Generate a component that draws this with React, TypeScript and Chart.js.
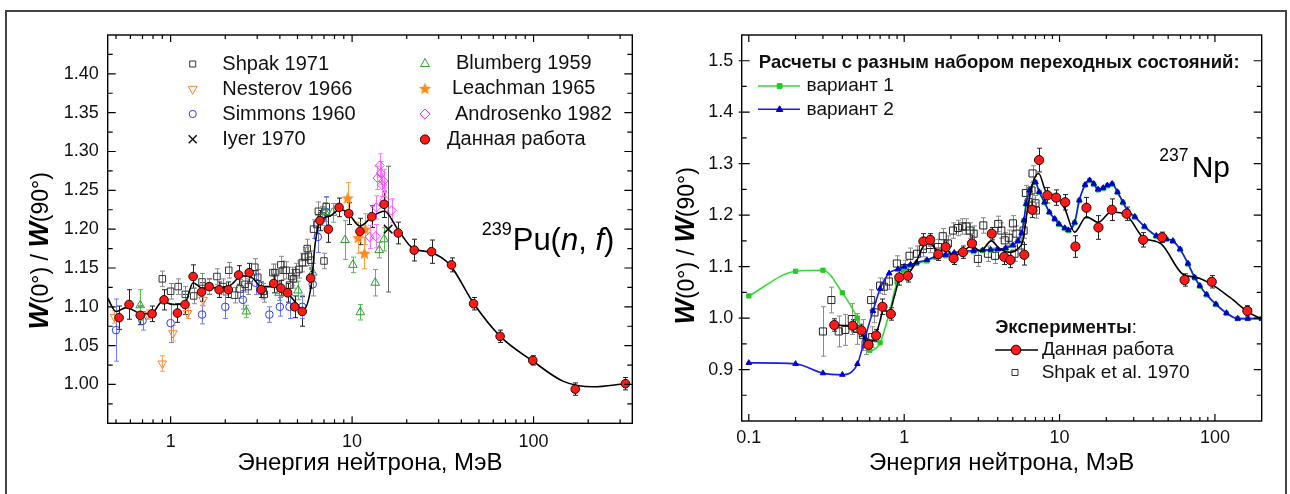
import React, { useEffect, useRef } from 'react';
import { Chart, registerables } from 'chart.js';

Chart.register(...registerables);

const FONT = '"Liberation Sans", Arial, Helvetica, sans-serif';

/* ===================== LEFT PANEL : 239Pu(n,f) ===================== */
const leftXTicks = [1, 10, 100];
const leftXMinor = [0.5, 0.6, 0.7, 0.8, 0.9, 2, 3, 4, 5, 6, 7, 8, 9, 20, 30, 40, 50, 60, 70, 80, 90, 200, 300];
const leftYTicks = [1.0, 1.05, 1.1, 1.15, 1.2, 1.25, 1.3, 1.35, 1.4];
const leftYMinor = [0.975, 1.025, 1.075, 1.125, 1.175, 1.225, 1.275, 1.325, 1.375, 1.425];

// "Данная работа" (red circles)
const leftRedE = [0.52, 0.59, 0.68, 0.79, 0.92, 1.09, 1.2, 1.33, 1.48, 1.63, 1.85, 2.08, 2.37, 2.71, 3.15, 3.70, 4.05, 4.41, 4.83, 5.31, 5.91, 6.65, 7.40, 8.47, 9.58, 11.05, 12.83, 15.0, 17.95, 22.0, 27.4, 35.3, 46.7, 65.4, 99.0, 169.7, 321];
const leftRedW = [1.086, 1.103, 1.089, 1.091, 1.109, 1.092, 1.103, 1.139, 1.119, 1.126, 1.122, 1.122, 1.141, 1.144, 1.122, 1.130, 1.124, 1.118, 1.100, 1.094, 1.137, 1.211, 1.200, 1.228, 1.220, 1.197, 1.216, 1.232, 1.195, 1.173, 1.171, 1.154, 1.104, 1.062, 1.031, 0.994, 1.001];
const leftRedErr = [0.015, 0.019, 0.012, 0.010, 0.013, 0.012, 0.013, 0.015, 0.012, 0.010, 0.010, 0.010, 0.012, 0.012, 0.010, 0.012, 0.010, 0.012, 0.014, 0.019, 0.013, 0.013, 0.017, 0.012, 0.014, 0.017, 0.014, 0.017, 0.014, 0.014, 0.015, 0.009, 0.008, 0.008, 0.006, 0.008, 0.008];

// smooth curve through own data
const leftFitE = [0.45, 0.5, 0.57, 0.67, 0.75, 0.81, 0.9, 1.03, 1.2, 1.33, 1.49, 1.85, 2.11, 2.48, 2.83, 3.15, 3.9, 4.4, 4.83, 5.37, 5.97, 6.25, 6.65, 7.57, 8.5, 9.4, 11.06, 13.0, 15.1, 17.7, 21.7, 27.2, 34.6, 46.6, 65.5, 99.2, 146, 213, 320];
const leftFitW = [1.111, 1.094, 1.099, 1.092, 1.091, 1.094, 1.107, 1.103, 1.105, 1.131, 1.124, 1.125, 1.127, 1.140, 1.137, 1.126, 1.126, 1.118, 1.107, 1.096, 1.130, 1.180, 1.210, 1.217, 1.225, 1.222, 1.204, 1.217, 1.223, 1.201, 1.175, 1.170, 1.154, 1.105, 1.062, 1.030, 1.004, 0.997, 1.001];

// Shpak 1971
const shpakLE = [0.90, 1.0, 1.10, 1.205, 1.34, 1.49, 1.63, 1.80, 1.95, 2.09, 2.25, 2.41, 2.57, 2.68, 2.91, 3.02, 3.24, 3.28, 3.66, 3.84, 4.05, 4.17, 4.33, 4.52, 4.75, 4.91, 5.09, 5.31, 5.48, 5.66, 5.91, 6.13, 6.40, 6.52, 6.83, 7.0, 7.2, 3.76, 4.65, 5.74];
const shpakLW = [1.136, 1.120, 1.126, 1.116, 1.114, 1.132, 1.126, 1.139, 1.126, 1.147, 1.115, 1.123, 1.129, 1.126, 1.151, 1.138, 1.120, 1.116, 1.144, 1.129, 1.154, 1.147, 1.147, 1.128, 1.136, 1.144, 1.148, 1.157, 1.164, 1.175, 1.160, 1.200, 1.206, 1.223, 1.217, 1.159, 1.229, 1.144, 1.139, 1.165];
const shpakLErr = [0.010, 0.010, 0.010, 0.010, 0.010, 0.011, 0.010, 0.010, 0.010, 0.010, 0.010, 0.012, 0.010, 0.010, 0.011, 0.010, 0.010, 0.010, 0.011, 0.012, 0.011, 0.012, 0.011, 0.012, 0.012, 0.012, 0.011, 0.012, 0.012, 0.012, 0.012, 0.012, 0.012, 0.012, 0.012, 0.010, 0.012, 0.011, 0.012, 0.012];

// Nesterov 1966
const nestE = [0.49, 0.75, 0.90, 1.03, 1.24, 1.51];
const nestW = [1.087, 1.090, 1.027, 1.066, 1.092, 1.109];
const nestErr = [0.008, 0.006, 0.010, 0.010, 0.007, 0.008];

// Simmons 1960
const simE = [0.50, 0.70, 1.0, 1.49, 2.0, 2.5, 2.94, 3.5, 4.0, 4.52, 5.31, 6.07, 6.47, 7.2];
const simW = [1.070, 1.082, 1.079, 1.090, 1.100, 1.109, 1.131, 1.090, 1.100, 1.100, 1.100, 1.129, 1.190, 1.222];
const simErr = [0.040, 0.012, 0.025, 0.012, 0.015, 0.012, 0.015, 0.010, 0.012, 0.015, 0.015, 0.015, 0.020, 0.020];

// Iyer 1970
const iyerE = [15.8];
const iyerW = [1.200];
const iyerErr = [0.081];

// Blumberg 1959
const blumE = [0.68, 2.61, 3.96, 5.04, 6.07, 7.1, 7.8, 9.14, 10.1, 11.1, 13.4, 14.1, 15.0];
const blumW = [1.102, 1.094, 1.118, 1.121, 1.144, 1.222, 1.221, 1.186, 1.154, 1.093, 1.131, 1.173, 1.187];
const blumErr = [0.020, 0.008, 0.010, 0.012, 0.012, 0.012, 0.012, 0.025, 0.010, 0.010, 0.017, 0.010, 0.015];

// Leachman 1965
const leachE = [9.45, 10.8, 11.8, 11.7];
const leachW = [1.240, 1.189, 1.200, 1.169];
const leachErr = [0.020, 0.020, 0.020, 0.020];

// Androsenko 1982
const andE = [12.5, 13.5, 13.6, 13.8, 14.2, 14.4, 14.6, 14.9, 15.1, 16.5];
const andW = [1.190, 1.191, 1.228, 1.266, 1.282, 1.272, 1.257, 1.262, 1.238, 1.224];
const andErr = [0.015, 0.015, 0.015, 0.015, 0.015, 0.015, 0.015, 0.015, 0.015, 0.015];

/* ===================== RIGHT PANEL : 237Np ===================== */
const rightXTicks = [0.1, 1, 10, 100];
const rightXMinor = [0.2, 0.3, 0.4, 0.5, 0.6, 0.7, 0.8, 0.9, 2, 3, 4, 5, 6, 7, 8, 9, 20, 30, 40, 50, 60, 70, 80, 90];
const rightYTicks = [0.9, 1.0, 1.1, 1.2, 1.3, 1.4, 1.5];
const rightYMinor = [0.85, 0.95, 1.05, 1.15, 1.25, 1.35, 1.45];

// "Данная работа"
const rRedE = [0.355, 0.466, 0.53, 0.59, 0.66, 0.725, 0.82, 0.93, 1.056, 1.33, 1.47, 1.66, 1.85, 2.08, 2.39, 2.73, 3.66, 4.4, 4.82, 5.93, 6.68, 7.38, 8.35, 9.5, 10.87, 12.65, 14.9, 17.8, 21.7, 27.0, 34.5, 45.7, 63.8, 95.4, 161.7];
const rRedW = [0.9865, 0.985, 0.976, 0.948, 0.966, 1.022, 1.008, 1.079, 1.082, 1.149, 1.152, 1.124, 1.138, 1.116, 1.128, 1.145, 1.164, 1.119, 1.113, 1.123, 1.2105, 1.307, 1.2385, 1.234, 1.225, 1.139, 1.2144, 1.176, 1.2105, 1.2027, 1.152, 1.157, 1.074, 1.0705, 1.014];
const rRedErr = [0.012, 0.012, 0.012, 0.010, 0.012, 0.015, 0.012, 0.015, 0.012, 0.015, 0.012, 0.012, 0.012, 0.012, 0.012, 0.015, 0.012, 0.015, 0.015, 0.020, 0.015, 0.023, 0.015, 0.015, 0.015, 0.021, 0.020, 0.023, 0.021, 0.013, 0.014, 0.010, 0.012, 0.012, 0.010];

// black curve
const rFitE = [0.355, 0.47, 0.53, 0.58, 0.64, 0.70, 0.73, 0.80, 0.87, 0.93, 1.05, 1.2, 1.33, 1.47, 1.66, 1.85, 2.08, 2.39, 2.73, 3.1, 3.64, 4.1, 4.8, 5.4, 5.8, 6.25, 6.7, 7.34, 8.2, 9.3, 10.8, 12.5, 14.9, 17.7, 21.5, 26.9, 34.4, 45.1, 62.0, 76.6, 94.8, 125, 166, 200];
const rFitW = [0.986, 0.985, 0.972, 0.952, 0.958, 0.995, 1.015, 1.012, 1.045, 1.075, 1.085, 1.11, 1.14, 1.145, 1.13, 1.135, 1.12, 1.13, 1.14, 1.13, 1.15, 1.135, 1.128, 1.135, 1.15, 1.2156, 1.261, 1.281, 1.245, 1.2385, 1.2125, 1.167, 1.197, 1.186, 1.206, 1.200, 1.157, 1.144, 1.0855, 1.079, 1.066, 1.04, 1.0105, 0.998];

// вариант 2 (blue)
const blueE = [0.1, 0.2, 0.3, 0.4, 0.5, 0.56, 0.63, 0.7, 0.8, 0.91, 1.0, 1.1, 1.2, 1.4, 1.6, 1.85, 2.1, 2.4, 2.8, 3.2, 3.6, 4.0, 4.5, 5.0, 5.4, 5.7, 5.9, 6.1, 6.4, 7.0, 7.4, 8.0, 8.6, 9.3, 9.9, 10.8, 11.4, 12.5, 13.4, 14.6, 15.6, 16.6, 17.7, 19.1, 20.3, 21.8, 23.6, 25.6, 27.5, 30.5, 35.2, 41.9, 48.6, 53.6, 59.7, 67.1, 74.1, 79.9, 88.3, 101.5, 118.6, 140.2, 162.8, 200];
const blueW = [0.913, 0.911, 0.893, 0.890, 0.911, 0.962, 1.014, 1.057, 1.087, 1.095, 1.100, 1.104, 1.108, 1.113, 1.120, 1.123, 1.127, 1.130, 1.131, 1.132, 1.133, 1.134, 1.136, 1.142, 1.150, 1.165, 1.190, 1.222, 1.248, 1.264, 1.245, 1.225, 1.206, 1.193, 1.183, 1.175, 1.171, 1.186, 1.229, 1.259, 1.268, 1.261, 1.250, 1.253, 1.258, 1.261, 1.245, 1.225, 1.208, 1.197, 1.178, 1.160, 1.154, 1.150, 1.134, 1.106, 1.079, 1.063, 1.046, 1.027, 1.010, 0.999, 0.999, 0.999];

// вариант 1 (green)
const greenE = [0.1, 0.2, 0.3, 0.4, 0.5, 0.6, 0.7, 0.8, 0.9, 1.0, 1.1, 1.2, 1.4, 1.6, 1.85, 2.1, 2.4, 2.8, 3.2, 3.6, 4.0, 4.5, 5.0, 5.4, 5.7, 5.9, 6.1, 6.4, 7.0, 7.4, 8.0, 8.6, 9.3, 9.9, 10.8, 11.4, 12.5, 13.4, 14.6, 15.6, 16.6, 17.7, 19.1, 20.3, 21.8, 23.6, 25.6, 27.5, 30.5, 35.2, 41.9, 48.6, 53.6, 59.7, 67.1, 74.1, 79.9, 88.3, 101.5, 118.6, 140.2, 162.8, 200];
const greenW = [1.043, 1.091, 1.093, 1.049, 1.000, 0.937, 0.952, 1.009, 1.070, 1.093, 1.102, 1.106, 1.111, 1.118, 1.121, 1.124, 1.127, 1.129, 1.131, 1.132, 1.133, 1.135, 1.141, 1.149, 1.164, 1.189, 1.221, 1.247, 1.263, 1.244, 1.224, 1.205, 1.192, 1.182, 1.174, 1.170, 1.185, 1.228, 1.258, 1.267, 1.260, 1.249, 1.252, 1.257, 1.260, 1.244, 1.224, 1.207, 1.196, 1.177, 1.159, 1.153, 1.149, 1.133, 1.105, 1.078, 1.062, 1.045, 1.026, 1.009, 0.999, 0.999, 0.999];

// Shpak et al. 1970
const rShE = [0.30, 0.34, 0.379, 0.418, 0.46, 0.496, 0.542, 0.564, 0.613, 0.623, 0.644, 0.70, 0.74, 0.797, 0.897, 1.006, 1.083, 1.21, 1.32, 1.47, 1.65, 1.77, 1.91, 2.06, 2.22, 2.37, 2.51, 2.64, 2.80, 2.98, 3.23, 3.46, 3.84, 4.03, 4.22, 4.44, 4.71, 5.01, 5.13, 5.28, 5.64, 5.87, 6.07, 6.33, 6.6, 6.7, 7.0, 7.05];
const rShW = [0.974, 1.035, 0.974, 0.977, 0.998, 0.979, 0.967, 0.949, 1.035, 0.963, 1.011, 1.063, 1.061, 1.071, 1.106, 1.097, 1.121, 1.125, 1.134, 1.142, 1.138, 1.159, 1.145, 1.170, 1.175, 1.178, 1.178, 1.170, 1.164, 1.115, 1.180, 1.125, 1.121, 1.183, 1.170, 1.151, 1.156, 1.184, 1.125, 1.164, 1.141, 1.170, 1.243, 1.225, 1.248, 1.281, 1.223, 1.209];
const rShErr = [0.048, 0.025, 0.030, 0.030, 0.030, 0.030, 0.030, 0.020, 0.020, 0.020, 0.020, 0.015, 0.015, 0.015, 0.015, 0.015, 0.015, 0.015, 0.015, 0.015, 0.015, 0.015, 0.015, 0.015, 0.015, 0.015, 0.015, 0.015, 0.015, 0.015, 0.015, 0.015, 0.015, 0.015, 0.015, 0.015, 0.015, 0.015, 0.015, 0.015, 0.015, 0.015, 0.015, 0.015, 0.015, 0.015, 0.015, 0.015];

/* ===================== helpers ===================== */
const pts = (xs: number[], ys: number[]) => xs.map((x, i) => ({ x, y: ys[i] }));

function starPath(g: CanvasRenderingContext2D, cx: number, cy: number, R: number, r: number) {
  g.beginPath();
  for (let i = 0; i < 10; i++) {
    const ang = -Math.PI / 2 + (i * Math.PI) / 5;
    const rad = i % 2 === 0 ? R : r;
    const px = cx + rad * Math.cos(ang);
    const py = cy + rad * Math.sin(ang);
    if (i === 0) g.moveTo(px, py);
    else g.lineTo(px, py);
  }
  g.closePath();
}

function makeStar(size: number, color: string) {
  const c = document.createElement('canvas');
  c.width = size;
  c.height = size;
  const g = c.getContext('2d')!;
  starPath(g, size / 2, size / 2 + 0.6, size / 2, (size / 2) * 0.45);
  g.fillStyle = color;
  g.fill();
  return c;
}

function marker(ctx: CanvasRenderingContext2D, kind: string, x: number, y: number, r: number, color: string, fill?: string) {
  ctx.save();
  ctx.lineWidth = 1;
  ctx.strokeStyle = color;
  ctx.beginPath();
  if (kind === 'square') ctx.rect(x - r, y - r, 2 * r, 2 * r);
  else if (kind === 'circle') ctx.arc(x, y, r, 0, Math.PI * 2);
  else if (kind === 'triUp') {
    ctx.moveTo(x, y - r);
    ctx.lineTo(x + r * 0.9, y + r * 0.6);
    ctx.lineTo(x - r * 0.9, y + r * 0.6);
    ctx.closePath();
  } else if (kind === 'triDown') {
    ctx.moveTo(x, y + r);
    ctx.lineTo(x + r * 0.9, y - r * 0.6);
    ctx.lineTo(x - r * 0.9, y - r * 0.6);
    ctx.closePath();
  } else if (kind === 'diamond') {
    ctx.moveTo(x, y - r);
    ctx.lineTo(x + r, y);
    ctx.lineTo(x, y + r);
    ctx.lineTo(x - r, y);
    ctx.closePath();
  } else if (kind === 'cross') {
    ctx.lineWidth = 1.5;
    ctx.moveTo(x - r, y - r);
    ctx.lineTo(x + r, y + r);
    ctx.moveTo(x + r, y - r);
    ctx.lineTo(x - r, y + r);
  } else if (kind === 'star') {
    starPath(ctx, x, y, r, r * 0.45);
  }
  if (fill) {
    ctx.fillStyle = fill;
    ctx.fill();
  }
  ctx.stroke();
  ctx.restore();
}

const errorBarPlugin = {
  id: 'errorBars',
  beforeDatasetsDraw(chart: any) {
    const { ctx, chartArea: a } = chart;
    const xs = chart.scales.x;
    const ys = chart.scales.y;
    ctx.save();
    ctx.beginPath();
    ctx.rect(a.left, a.top, a.right - a.left, a.bottom - a.top);
    ctx.clip();
    chart.data.datasets.forEach((ds: any) => {
      if (!ds.errors) return;
      ctx.strokeStyle = ds.errorColor;
      ctx.lineWidth = 1;
      ds.data.forEach((p: any, i: number) => {
        const e = ds.errors[i];
        if (!e) return;
        const px = Math.round(xs.getPixelForValue(p.x)) + 0.5;
        const y1 = ys.getPixelForValue(p.y + e);
        const y2 = ys.getPixelForValue(p.y - e);
        ctx.beginPath();
        ctx.moveTo(px, y1);
        ctx.lineTo(px, y2);
        ctx.moveTo(px - 2.5, y1);
        ctx.lineTo(px + 2.5, y1);
        ctx.moveTo(px - 2.5, y2);
        ctx.lineTo(px + 2.5, y2);
        ctx.stroke();
      });
    });
    ctx.restore();
  },
};

function boxPlugin(xMajor: number[], xMinor: number[], yMajor: number[], yMinor: number[], outward: number) {
  return {
    id: 'box',
    afterDatasetsDraw(chart: any) {
      const { ctx, chartArea: a } = chart;
      const xs = chart.scales.x;
      const ys = chart.scales.y;
      ctx.save();
      ctx.strokeStyle = '#000';
      ctx.lineWidth = 1.4;
      ctx.strokeRect(a.left, a.top, a.right - a.left, a.bottom - a.top);
      ctx.lineWidth = 1.2;
      ctx.beginPath();
      const tx = (v: number, L: number) => {
        const p = xs.getPixelForValue(v);
        ctx.moveTo(p, a.bottom);
        ctx.lineTo(p, a.bottom - L);
        ctx.moveTo(p, a.top);
        ctx.lineTo(p, a.top + L);
      };
      const ty = (v: number, L: number, out: number) => {
        const p = ys.getPixelForValue(v);
        ctx.moveTo(a.left - out, p);
        ctx.lineTo(a.left + L, p);
        ctx.moveTo(a.right, p);
        ctx.lineTo(a.right - L, p);
      };
      xMajor.forEach((v) => tx(v, 7));
      xMinor.forEach((v) => tx(v, 4));
      yMajor.forEach((v) => ty(v, 8, outward));
      yMinor.forEach((v) => ty(v, 5, 0));
      ctx.stroke();
      ctx.restore();
    },
  };
}

function drawYTitle(ctx: CanvasRenderingContext2D, cx: number, cy: number) {
  const parts: [string, string][] = [
    ['W', `italic bold 27px ${FONT}`],
    ['(0°) / ', `23px ${FONT}`],
    ['W', `italic bold 27px ${FONT}`],
    ['(90°)', `23px ${FONT}`],
  ];
  ctx.save();
  ctx.translate(cx, cy);
  ctx.rotate(-Math.PI / 2);
  let total = 0;
  parts.forEach(([s, f]) => {
    ctx.font = f;
    total += ctx.measureText(s).width;
  });
  ctx.textAlign = 'left';
  ctx.textBaseline = 'alphabetic';
  ctx.fillStyle = '#000';
  let x = -total / 2;
  parts.forEach(([s, f]) => {
    ctx.font = f;
    ctx.fillText(s, x, 9);
    x += ctx.measureText(s).width;
  });
  ctx.restore();
}

function runs(ctx: CanvasRenderingContext2D, parts: [string, string][], x: number, y: number) {
  let cx = x;
  parts.forEach(([s, f]) => {
    ctx.font = f;
    ctx.fillText(s, cx, y);
    cx += ctx.measureText(s).width;
  });
  return cx;
}

const X_TITLE = 'Энергия нейтрона, МэВ';

/* ===================== LEFT CHART ===================== */
function leftConfig(): any {
  const star = makeStar(13, '#ff8a1c');
  const textPlugin = {
    id: 'leftText',
    afterDraw(chart: any) {
      const ctx: CanvasRenderingContext2D = chart.ctx;
      const a = chart.chartArea;
      ctx.save();
      ctx.fillStyle = '#111';
      ctx.textAlign = 'left';
      ctx.textBaseline = 'middle';
      ctx.font = `20px ${FONT}`;
      // legend column 1
      marker(ctx, 'square', 192.7, 64, 3, '#333');
      ctx.fillText('Shpak 1971', 222.3, 64);
      marker(ctx, 'triDown', 192.7, 89.3, 5, '#ff7f27');
      ctx.fillText('Nesterov 1966', 222.3, 89.3);
      marker(ctx, 'circle', 192.7, 114, 3.6, '#2a3cff');
      ctx.fillText('Simmons 1960', 222.3, 114);
      marker(ctx, 'cross', 192.7, 139.3, 4, '#111');
      ctx.fillText('Iyer 1970', 222.3, 139.3);
      // legend column 2
      marker(ctx, 'triUp', 425, 63.5, 5, '#2e9e2e');
      ctx.fillText('Blumberg 1959', 456, 63.5);
      ctx.drawImage(star, 425 - 6.5, 88.5 - 6.5);
      ctx.fillText('Leachman 1965', 452, 88.5);
      marker(ctx, 'diamond', 425, 114, 5, '#ff33ff');
      ctx.fillText('Androsenko 1982', 455, 114);
      marker(ctx, 'circle', 425, 139.5, 4.6, '#2a0000', '#ff1a1a');
      ctx.fillText('Данная работа', 447, 139.5);
      // nucleus label
      ctx.textBaseline = 'alphabetic';
      ctx.fillStyle = '#000';
      runs(ctx, [['239', `18px ${FONT}`]], 481.7, 235);
      runs(ctx, [['Pu(', `31px ${FONT}`], ['n', `italic 31px ${FONT}`], [', ', `31px ${FONT}`], ['f', `italic 31px ${FONT}`], [')', `31px ${FONT}`]], 512.7, 250);
      // axis titles
      ctx.font = `24px ${FONT}`;
      ctx.textAlign = 'center';
      ctx.fillText(X_TITLE, (a.left + a.right) / 2, 470);
      ctx.restore();
      drawYTitle(ctx, 39.4, 250.8);
    },
  };
  return {
    type: 'scatter',
    data: {
      datasets: [
        { data: pts(leftRedE, leftRedW), pointStyle: 'circle', pointRadius: 4.3, backgroundColor: '#ff1a1a', borderColor: '#2a0000', borderWidth: 1, errors: leftRedErr, errorColor: '#222' },
        { data: pts(leftFitE, leftFitW), showLine: true, pointRadius: 0, borderColor: '#000', borderWidth: 1.6, cubicInterpolationMode: 'monotone', fill: false },
        { data: pts(iyerE, iyerW), pointStyle: 'crossRot', pointRadius: 6, borderColor: '#111', borderWidth: 1.6, errors: iyerErr, errorColor: '#666' },
        { data: pts(andE, andW), pointStyle: 'rectRot', pointRadius: 4.6, backgroundColor: 'rgba(0,0,0,0)', borderColor: '#ff33ff', borderWidth: 1, errors: andErr, errorColor: '#ff77ff' },
        { data: pts(leachE, leachW), pointStyle: star, errors: leachErr, errorColor: '#ffa040' },
        { data: pts(blumE, blumW), pointStyle: 'triangle', pointRadius: 5, backgroundColor: 'rgba(0,0,0,0)', borderColor: '#2e9e2e', borderWidth: 1, errors: blumErr, errorColor: '#5cb85c' },
        { data: pts(simE, simW), pointStyle: 'circle', pointRadius: 3.8, backgroundColor: 'rgba(0,0,0,0)', borderColor: '#2a3cff', borderWidth: 1, errors: simErr, errorColor: '#6f7cff' },
        { data: pts(nestE, nestW), pointStyle: 'triangle', pointRotation: 180, pointRadius: 5, backgroundColor: 'rgba(0,0,0,0)', borderColor: '#ff7f27', borderWidth: 1, errors: nestErr, errorColor: '#ffa060' },
        { data: pts(shpakLE, shpakLW), pointStyle: 'rect', pointRadius: 4.6, backgroundColor: 'rgba(0,0,0,0)', borderColor: '#333', borderWidth: 1, errors: shpakLErr, errorColor: '#8a8a8a' },
      ],
    },
    options: {
      responsive: false,
      animation: false,
      events: [],
      layout: { padding: { left: 0, right: 12.7, top: 35, bottom: 0 } },
      plugins: { legend: { display: false }, tooltip: { enabled: false } },
      scales: {
        x: {
          type: 'logarithmic',
          min: 0.45,
          max: 350,
          afterBuildTicks: (s: any) => {
            s.ticks = leftXTicks.map((v) => ({ value: v }));
          },
          afterFit: (s: any) => {
            s.height = 70.7;
          },
          grid: { display: false, drawTicks: false },
          border: { display: false },
          ticks: { autoSkip: false, maxRotation: 0, padding: 7.6, color: '#111', font: { family: FONT, size: 18 }, callback: (v: any) => String(v) },
        },
        y: {
          min: 0.95,
          max: 1.45,
          afterBuildTicks: (s: any) => {
            s.ticks = leftYTicks.map((v) => ({ value: v }));
          },
          afterFit: (s: any) => {
            s.width = 107.7;
          },
          grid: { display: false, drawTicks: false },
          border: { display: false },
          ticks: { autoSkip: false, padding: 9, color: '#111', font: { family: FONT, size: 18 }, callback: (v: any) => Number(v).toFixed(2) },
        },
      },
    },
    plugins: [errorBarPlugin, boxPlugin(leftXTicks, leftXMinor, leftYTicks, leftYMinor, 0), textPlugin],
  };
}

/* ===================== RIGHT CHART ===================== */
function rightConfig(): any {
  const OFF = 645;
  const textPlugin = {
    id: 'rightText',
    afterDraw(chart: any) {
      const ctx: CanvasRenderingContext2D = chart.ctx;
      const a = chart.chartArea;
      ctx.save();
      ctx.fillStyle = '#111';
      ctx.textAlign = 'left';
      ctx.textBaseline = 'middle';
      ctx.font = `bold 18.5px ${FONT}`;
      ctx.fillText('Расчеты с разным набором переходных состояний:', 758.8 - OFF, 63.3);
      // variant 1
      ctx.strokeStyle = '#33dd33';
      ctx.lineWidth = 1.6;
      ctx.beginPath();
      ctx.moveTo(758 - OFF, 86);
      ctx.lineTo(800 - OFF, 86);
      ctx.stroke();
      marker(ctx, 'square', 779.6 - OFF, 86, 2.4, '#22cc22', '#22cc22');
      ctx.font = `19px ${FONT}`;
      ctx.fillText('вариант 1', 806.5 - OFF, 86);
      // variant 2
      ctx.strokeStyle = '#1a1aee';
      ctx.beginPath();
      ctx.moveTo(758 - OFF, 109.3);
      ctx.lineTo(800 - OFF, 109.3);
      ctx.stroke();
      marker(ctx, 'triUp', 779.6 - OFF, 109.3, 3.6, '#0000cc', '#0000cc');
      ctx.fillText('вариант 2', 806.5 - OFF, 109.3);
      // experiments block
      runs(ctx, [['Эксперименты', `bold 18.5px ${FONT}`], [':', `18.5px ${FONT}`]], 995.2 - OFF, 328.3);
      ctx.strokeStyle = '#000';
      ctx.lineWidth = 1.6;
      ctx.beginPath();
      ctx.moveTo(995.2 - OFF, 350);
      ctx.lineTo(1038 - OFF, 350);
      ctx.stroke();
      marker(ctx, 'circle', 1016 - OFF, 350, 4.8, '#2a0000', '#ff1a1a');
      ctx.font = `19px ${FONT}`;
      ctx.fillText('Данная работа', 1042 - OFF, 350);
      marker(ctx, 'square', 1015 - OFF, 372.5, 3, '#333');
      ctx.fillText('Shpak et al. 1970', 1041.7 - OFF, 372.5);
      // nucleus label
      ctx.textBaseline = 'alphabetic';
      ctx.fillStyle = '#000';
      runs(ctx, [['237', `17.5px ${FONT}`]], 1159.3 - OFF, 161);
      runs(ctx, [['Np', `30px ${FONT}`]], 1191.7 - OFF, 176.7);
      ctx.font = `24px ${FONT}`;
      ctx.textAlign = 'center';
      ctx.fillText(X_TITLE, (a.left + a.right) / 2, 470);
      ctx.restore();
      drawYTitle(ctx, 685.3 - OFF, 245.8);
    },
  };
  return {
    type: 'scatter',
    data: {
      datasets: [
        { data: pts(rRedE, rRedW), pointStyle: 'circle', pointRadius: 4.6, backgroundColor: '#ff1a1a', borderColor: '#2a0000', borderWidth: 1, errors: rRedErr, errorColor: '#222' },
        { data: pts(rFitE, rFitW), showLine: true, pointRadius: 0, borderColor: '#000', borderWidth: 1.6, cubicInterpolationMode: 'monotone', fill: false },
        { data: pts(blueE, blueW), showLine: true, pointStyle: 'triangle', pointRadius: 3.2, backgroundColor: '#0000cc', borderColor: '#1a1aee', pointBorderColor: '#0000cc', borderWidth: 1.6, pointBorderWidth: 1, cubicInterpolationMode: 'monotone', fill: false },
        { data: pts(greenE, greenW), showLine: true, pointStyle: 'rect', pointRadius: 3, backgroundColor: '#22cc22', borderColor: '#33dd33', pointBorderColor: '#22cc22', borderWidth: 1.6, pointBorderWidth: 1, cubicInterpolationMode: 'monotone', fill: false },
        { data: pts(rShE, rShW), pointStyle: 'rect', pointRadius: 5, backgroundColor: 'rgba(255,255,255,0)', borderColor: '#222', borderWidth: 1, errors: rShErr, errorColor: '#8a8a8a' },
      ],
    },
    options: {
      responsive: false,
      animation: false,
      events: [],
      layout: { padding: { left: 0, right: 28.3, top: 35, bottom: 0 } },
      plugins: { legend: { display: false }, tooltip: { enabled: false } },
      scales: {
        x: {
          type: 'logarithmic',
          min: 0.09,
          max: 200,
          afterBuildTicks: (s: any) => {
            s.ticks = rightXTicks.map((v) => ({ value: v }));
          },
          afterFit: (s: any) => {
            s.height = 73;
          },
          grid: { display: false, drawTicks: false },
          border: { display: false },
          ticks: { autoSkip: false, maxRotation: 0, padding: 6.5, color: '#111', font: { family: FONT, size: 18 }, callback: (v: any) => String(v) },
        },
        y: {
          min: 0.8,
          max: 1.55,
          afterBuildTicks: (s: any) => {
            s.ticks = rightYTicks.map((v) => ({ value: v }));
          },
          afterFit: (s: any) => {
            s.width = 96.7;
          },
          grid: { display: false, drawTicks: false },
          border: { display: false },
          ticks: { autoSkip: false, padding: 8.4, color: '#111', font: { family: FONT, size: 18 }, callback: (v: any) => Number(v).toFixed(1) },
        },
      },
    },
    plugins: [errorBarPlugin, boxPlugin(rightXTicks, rightXMinor, rightYTicks, rightYMinor, 3), textPlugin],
  };
}

function ChartCanvas({ make, left }: { make: () => any; left: number }) {
  const ref = useRef<HTMLCanvasElement>(null);
  useEffect(() => {
    const chart = new Chart(ref.current!, make());
    return () => chart.destroy();
  }, []);
  return (
    <canvas
      ref={ref}
      width={645}
      height={494}
      style={{ position: 'absolute', left, top: 0, width: 645, height: 494 }}
    />
  );
}

export default function App() {
  return (
    <div style={{ position: 'fixed', left: 0, top: 0, width: 1290, height: 494, background: '#fff', overflow: 'hidden' }}>
      <div style={{ position: 'absolute', left: 5, top: 10, width: 1282, height: 600, border: '2px solid #444', boxSizing: 'border-box' }} />
      <ChartCanvas make={leftConfig} left={0} />
      <ChartCanvas make={rightConfig} left={645} />
    </div>
  );
}
